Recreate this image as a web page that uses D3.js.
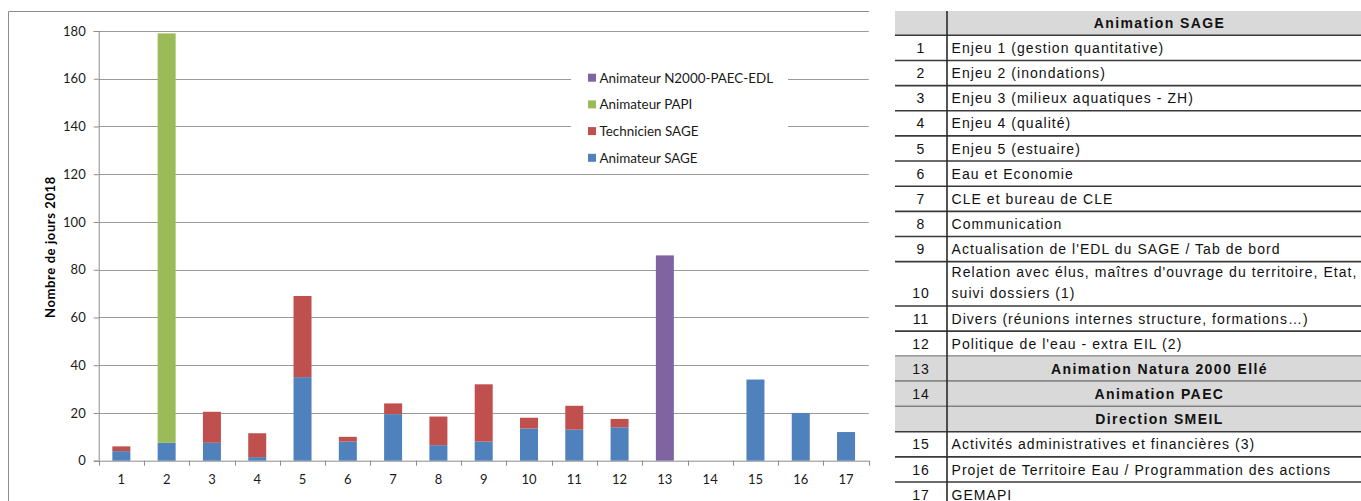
<!DOCTYPE html>
<html>
<head>
<meta charset="utf-8">
<script src="https://cdn.jsdelivr.net/npm/d3@7"></script>
<style>
  body { margin: 0; background: #fff; }
  svg { display: block; }
</style>
</head>
<body>
<div id="chart"></div>
<script>
// data
const categories = ["1","2","3","4","5","6","7","8","9","10","11","12","13","14","15","16","17"];
const animateurSage  = [4, 7.5, 7.5, 1.5, 35, 8, 19.5, 6.5, 8, 13.5, 13, 14, 0, 0, 34, 20, 12];
const technicienSage = [2, 0, 13, 10, 34, 2, 4.5, 12, 24, 4.5, 10, 3.5, 0, 0, 0, 0, 0];
const animateurPapi  = [0, 171.5, 0, 0, 0, 0, 0, 0, 0, 0, 0, 0, 0, 0, 0, 0, 0];
const animateurN2000 = [0, 0, 0, 0, 0, 0, 0, 0, 0, 0, 0, 0, 86, 0, 0, 0, 0];
const seriesNames = ["Animateur SAGE", "Technicien SAGE", "Animateur PAPI", "Animateur N2000-PAEC-EDL"];
const seriesColors = ["#4f81bd", "#c0504d", "#9bbb59", "#8064a2"];
const yTicks = [0, 20, 40, 60, 80, 100, 120, 140, 160, 180];
const yTitle = "Nombre de jours 2018";

// table beside the chart
const tableNums = ["", "1", "2", "3", "4", "5", "6", "7", "8", "9", "10", "11", "12", "13", "14", "", "15", "16", "17"];
const tableLabels = [
  "Animation SAGE",
  "Enjeu 1 (gestion quantitative)",
  "Enjeu 2 (inondations)",
  "Enjeu 3 (milieux aquatiques - ZH)",
  "Enjeu 4 (qualité)",
  "Enjeu 5 (estuaire)",
  "Eau et Economie",
  "CLE et bureau de CLE",
  "Communication",
  "Actualisation de l'EDL du SAGE / Tab de bord",
  "Relation avec élus, maîtres d'ouvrage du territoire, Etat,|suivi dossiers (1)",
  "Divers (réunions internes structure, formations…)",
  "Politique de l'eau - extra EIL (2)",
  "Animation Natura 2000 Ellé",
  "Animation PAEC",
  "Direction SMEIL",
  "Activités administratives et financières (3)",
  "Projet de Territoire Eau / Programmation des actions",
  "GEMAPI"
];
const tableHeads = [0, 13, 14, 15]; // grey bold rows

const W = 1361, H = 501;
const svg = d3.select("#chart").append("svg")
  .attr("width", W)
  .attr("height", H);

// chart frame (cut on the right)
svg.append("path")
  .attr("d", "M8.5,501 V11.5 H869")
  .attr("fill", "none")
  .attr("stroke", "#8c8c8c")
  .attr("stroke-width", 1);

const plot = { left: 98.7, right: 868.7, top: 31, bottom: 460.7 };

const x = d3.scaleBand()
  .domain(categories)
  .range([plot.left, plot.right]);

const y = d3.scaleLinear()
  .domain([0, 180])
  .range([plot.bottom, plot.top]);

// gridlines
svg.append("g")
  .selectAll("line")
  .data(yTicks.filter(d => d > 0))
  .enter()
  .append("line")
  .attr("x1", plot.left)
  .attr("x2", plot.right)
  .attr("y1", d => Math.round(y(d)) + 0.5)
  .attr("y2", d => Math.round(y(d)) + 0.5)
  .attr("stroke", "#9a9a9a")
  .attr("stroke-width", 1);

// legend box hides the gridlines behind it
const legendRows = seriesNames.slice().reverse();
const legendColors = seriesColors.slice().reverse();
svg.append("rect")
  .attr("x", 571)
  .attr("y", 64)
  .attr("width", 217)
  .attr("height", 106)
  .attr("fill", "#fff");

const legend = svg.append("g");
legendRows.forEach(function (name, i) {
  const ly = 77.7 + i * 26.7;
  legend.append("rect")
    .attr("x", 588)
    .attr("y", ly - 4)
    .attr("width", 8)
    .attr("height", 8)
    .attr("fill", legendColors[i]);
  legend.append("text")
    .attr("x", 599.5)
    .attr("y", ly)
    .attr("dy", "0.36em")
    .attr("font-family", "Lato, sans-serif")
    .attr("font-size", "13.4px")
    .attr("fill", "#1a1a1a")
    .text(name);
});

// stacked bars
const rows = categories.map(function (c, i) {
  return {
    cat: c,
    "Animateur SAGE": animateurSage[i],
    "Technicien SAGE": technicienSage[i],
    "Animateur PAPI": animateurPapi[i],
    "Animateur N2000-PAEC-EDL": animateurN2000[i]
  };
});
const stacked = d3.stack().keys(seriesNames)(rows);
const barW = 18;

svg.append("g")
  .selectAll("g")
  .data(stacked)
  .enter()
  .append("g")
  .attr("fill", (d, i) => seriesColors[i])
  .selectAll("rect")
  .data(d => d.filter(p => p[1] - p[0] > 0))
  .enter()
  .append("rect")
  .attr("x", d => x(d.data.cat) + x.bandwidth() / 2 - barW / 2)
  .attr("width", barW)
  .attr("y", d => y(d[1]))
  .attr("height", d => y(d[0]) - y(d[1]));

// axes
const yAxis = svg.append("g")
  .attr("transform", "translate(" + plot.left + ",0)")
  .call(d3.axisLeft(y).tickValues(yTicks).tickSize(5).tickPadding(8));

const xAxis = svg.append("g")
  .attr("transform", "translate(0," + plot.bottom + ")")
  .call(d3.axisBottom(x).tickSize(0).tickPadding(14));

// x ticks sit between categories
svg.append("g")
  .selectAll("line")
  .data(d3.range(categories.length + 1))
  .enter()
  .append("line")
  .attr("x1", i => Math.round(plot.left + i * x.step()) + 0.5)
  .attr("x2", i => Math.round(plot.left + i * x.step()) + 0.5)
  .attr("y1", plot.bottom)
  .attr("y2", plot.bottom + 5)
  .attr("stroke", "#8c8c8c");

[yAxis, xAxis].forEach(function (a) {
  a.selectAll("path, line").attr("stroke", "#8c8c8c");
  a.selectAll("text")
    .attr("font-family", "Lato, sans-serif")
    .attr("font-size", "13px")
    .attr("fill", "#1a1a1a");
});

svg.append("text")
  .attr("transform", "translate(50,247) rotate(-90)")
  .attr("text-anchor", "middle")
  .attr("dy", "0.35em")
  .attr("font-family", "Lato, sans-serif")
  .attr("font-weight", "bold")
  .attr("font-size", "13px")
  .attr("letter-spacing", "0.6px")
  .attr("fill", "#000")
  .text(yTitle);

// table
const tab = { left: 895, mid: 947, right: 1372, top: 11 };
const rowH = tableLabels.map((d, i) => i === 0 ? 24.3 : (d.indexOf("|") >= 0 ? 44.3 : 25.15));
const rowTop = [];
let acc = tab.top;
rowH.forEach(function (h) { rowTop.push(acc); acc += h; });

const table = svg.append("g").attr("font-family", "'Liberation Sans', Arial, sans-serif");

tableLabels.forEach(function (label, i) {
  const isHead = tableHeads.indexOf(i) >= 0;
  const top = rowTop[i], bottom = top + rowH[i];
  if (isHead) {
    table.append("rect")
      .attr("x", tab.left)
      .attr("y", top)
      .attr("width", tab.right - tab.left)
      .attr("height", rowH[i])
      .attr("fill", "#d9d9d9");
  }
  table.append("text")
    .attr("x", (tab.left + tab.mid) / 2)
    .attr("y", bottom - 7.5)
    .attr("text-anchor", "middle")
    .attr("font-size", "14px")
    .attr("letter-spacing", "1px")
    .attr("fill", "#111")
    .text(tableNums[i]);
  const lines = label.split("|");
  lines.forEach(function (ln, k) {
    table.append("text")
      .attr("x", isHead ? (tab.mid + tab.right) / 2 : tab.mid + 4.5)
      .attr("y", bottom - 7.5 - (lines.length - 1 - k) * 21)
      .attr("text-anchor", isHead ? "middle" : "start")
      .attr("font-size", "14px")
      .attr("letter-spacing", isHead ? "1.4px" : "1.05px")
      .attr("font-weight", isHead ? "bold" : "normal")
      .attr("fill", "#111")
      .text(ln);
  });
  table.append("line")
    .attr("x1", tab.left)
    .attr("x2", tab.right)
    .attr("y1", bottom)
    .attr("y2", bottom)
    .attr("stroke", "#3a3a3a")
    .attr("stroke-width", 1.6);
});

table.append("line")
  .attr("x1", tab.mid)
  .attr("x2", tab.mid)
  .attr("y1", tab.top)
  .attr("y2", H)
  .attr("stroke", "#2a2a2a")
  .attr("stroke-width", 1.6);
</script>
</body>
</html>
